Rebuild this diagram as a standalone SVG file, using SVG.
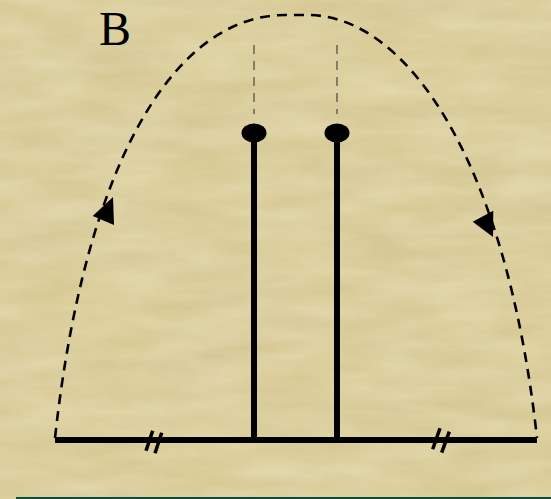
<svg xmlns="http://www.w3.org/2000/svg" width="551" height="499" viewBox="0 0 551 499">
<defs>
<filter id="tex" x="0" y="0" width="100%" height="100%">
<feTurbulence type="fractalNoise" baseFrequency="0.012 0.05" numOctaves="4" seed="7" result="n"/>
<feColorMatrix in="n" type="matrix" values="0 0 0 0 0.95  0 0 0 0 0.9  0 0 0 0 0.7  0 0 0 0.5 -0.12"/>
</filter>
<filter id="tex2" x="0" y="0" width="100%" height="100%">
<feTurbulence type="fractalNoise" baseFrequency="0.006 0.02" numOctaves="3" seed="3" result="n"/>
<feColorMatrix in="n" type="matrix" values="0 0 0 0 0.62  0 0 0 0 0.56  0 0 0 0 0.35  0 0 0 0.45 -0.14"/>
</filter>
</defs>
<style>
.thick{stroke:#000;stroke-width:6;fill:none}
.tick{stroke:#000;stroke-width:3.5;fill:none}
.guide{stroke:#6e6a55;stroke-width:1.6;stroke-dasharray:9 7;fill:none}
.path{stroke:#000;stroke-width:2.6;stroke-dasharray:10 7;fill:none}
.head{fill:#000}
.lbl{font-family:"Liberation Serif","Times New Roman",serif;font-size:48px;fill:#000}
</style>
<rect width="551" height="499" fill="#d8ca95"/>
<rect width="551" height="499" filter="url(#tex2)"/>
<rect width="551" height="499" filter="url(#tex)"/>
<rect x="16" y="497" width="535" height="2" fill="#0f4a3c"/>

<g id="label-B"><text class="lbl" x="99" y="45">B</text></g>

<g id="base">
<line class="thick" x1="55" y1="440" x2="537" y2="440"/>
<line class="tick" x1="152.7" y1="430.7" x2="146" y2="450.7"/>
<line class="tick" x1="161.7" y1="432.7" x2="155" y2="453.3"/>
<line class="tick" x1="440" y1="428.3" x2="432.7" y2="449.3"/>
<line class="tick" x1="449.3" y1="431.7" x2="441.7" y2="452.7"/>
</g>

<g id="pole-left">
<line class="thick" x1="254" y1="133" x2="254" y2="440"/>
<ellipse cx="254" cy="133" rx="12.5" ry="9.5" fill="#000"/>
<line class="guide" x1="254" y1="45" x2="254" y2="114"/>
</g>

<g id="pole-right">
<line class="thick" x1="337" y1="133" x2="337" y2="440"/>
<ellipse cx="337" cy="133" rx="12.5" ry="9.5" fill="#000"/>
<line class="guide" x1="337" y1="45" x2="337" y2="114"/>
</g>

<g id="connectors">
<path class="path" d="M55,438 C86,155 178,15 285,15 L308,15 C402,15 505,150 537,438"/>
<polygon class="head" points="113,197 92.7,216 114,225"/>
<polygon class="head" points="493,237 493.3,210.7 472.7,221.7"/>
</g>
</svg>
